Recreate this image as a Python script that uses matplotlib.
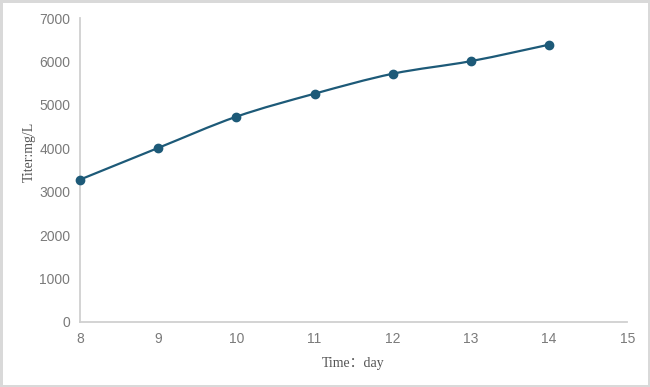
import matplotlib.pyplot as plt
from matplotlib.path import Path
from matplotlib.patches import PathPatch

days = [8, 9, 10, 11, 12, 13, 14]
titer = [3280, 4010, 4730, 5260, 5720, 6010, 6390]
x_ticks = [8, 9, 10, 11, 12, 13, 14, 15]
y_ticks = [0, 1000, 2000, 3000, 4000, 5000, 6000, 7000]

line_color = '#1d5a78'
grey = '#7a7a7a'

fig = plt.figure(figsize=(6.5, 3.87), dpi=100)
fig.patch.set_edgecolor('#d9d9d9')
fig.patch.set_linewidth(2.5)
ax = fig.add_axes([0.123, 0.168, 0.842, 0.785])

# smooth line like excel (catmull-rom as bezier segments)
verts = [(days[0], titer[0])]
codes = [Path.MOVETO]
n = len(days)
for i in range(n - 1):
    x0, y0 = days[max(i - 1, 0)], titer[max(i - 1, 0)]
    x1, y1 = days[i], titer[i]
    x2, y2 = days[i + 1], titer[i + 1]
    x3, y3 = days[min(i + 2, n - 1)], titer[min(i + 2, n - 1)]
    c1 = (x1 + (x2 - x0) / 6, y1 + (y2 - y0) / 6)
    c2 = (x2 - (x3 - x1) / 6, y2 - (y3 - y1) / 6)
    verts += [c1, c2, (x2, y2)]
    codes += [Path.CURVE4] * 3
ax.add_patch(PathPatch(Path(verts, codes), facecolor='none',
                       edgecolor=line_color, linewidth=1.6))
ax.plot(days, titer, linestyle='none', marker='o', markersize=6,
        color=line_color, clip_on=False, zorder=3)

ax.set_xlim(8, 15)
ax.set_ylim(0, 7000)
ax.set_xticks(x_ticks)
ax.set_yticks(y_ticks)
ax.tick_params(length=0, labelsize=10, labelcolor=grey, pad=7)
for lab in ax.get_xticklabels() + ax.get_yticklabels():
    lab.set_family('Liberation Sans')

for s in ['top', 'right']:
    ax.spines[s].set_visible(False)
for s in ['left', 'bottom']:
    ax.spines[s].set_color('#d0d0d0')
    ax.spines[s].set_linewidth(1.3)

ax.set_xlabel('Time：day', family=['Liberation Serif', 'Noto Sans CJK SC'],
              fontsize=10, color='#555555')
ax.set_ylabel('Titer:mg/L', family=['Liberation Serif', 'Noto Sans CJK SC'],
              fontsize=10, color='#555555')
ax.xaxis.set_label_coords(0.5, -0.115)
ax.yaxis.set_label_coords(-0.08, 0.56)

fig.savefig('out.png', dpi=100, edgecolor=fig.get_edgecolor())
